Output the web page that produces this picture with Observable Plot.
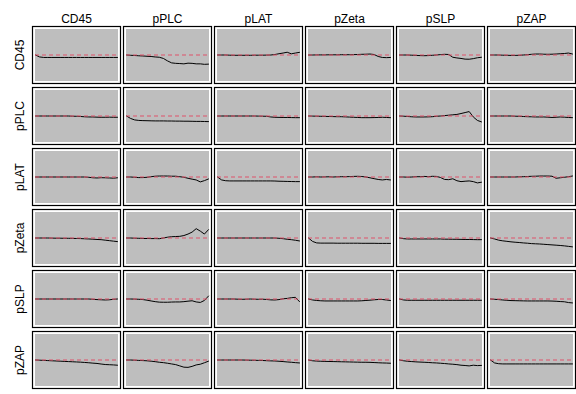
<!DOCTYPE html>
<html><head><meta charset="utf-8">
<script src="https://cdn.jsdelivr.net/npm/d3@7"></script>
<script src="https://cdn.jsdelivr.net/npm/@observablehq/plot@0.6"></script>
<style>body{margin:0;background:white}</style>
</head><body><div id="chart"></div>
<script>
const markers = ["CD45", "pPLC", "pLAT", "pZeta", "pSLP", "pZAP"];

// Each row: six series (one per column marker), deviation from the reference level (0)
const rowCD45 = [
  [0,-2,-2.5,-2.5,-2.5,-2.5,-2.5,-2.5,-2.5,-2.5,-2.5,-2.5,-2.5,-2.5,-2.5,-2.5,-2.5,-2.5,-2.5,-2.5,-2.5],
  [0,-0.3,-0.5,-0.8,-1,-1.3,-1.5,-2,-2.3,-3.5,-6,-8,-8.5,-8.7,-9,-8.3,-8.5,-9,-9,-9.5,-9.3],
  [0,0,0,-0.2,-0.3,-0.3,-0.3,-0.3,-0.3,-0.2,-0.2,-0.2,-0.1,0,0.5,1.3,2,2.8,1.2,2,2.7],
  [0,0,0.1,0.1,0.1,0.2,0.2,0.2,0.3,0.3,0.3,0.4,0.5,0.7,0.8,1,0.5,-1.5,-2.5,-2.7,-2.5],
  [0,0,0,-0.2,-0.4,-0.6,-0.7,-0.6,-0.3,0,0.4,0.7,0.5,-2.3,-3,-3.5,-4.2,-4.3,-3.7,-2.8,-2.3],
  [0,0,0,-0.2,-0.3,-0.4,-0.4,-0.3,0,0.3,0.7,1,1,0.8,0.7,0.8,1,1.3,1.5,2,1]
];
const rowPPLC = [
  [0,0,0,0,0,0,0,0,0,-0.2,-0.3,-0.5,-0.8,-1,-1,-1.2,-1.3,-1.3,-1.2,-1.3,-1.3],
  [0,-2.5,-4,-4.5,-4.7,-4.8,-4.9,-5,-5,-5,-5.1,-5.1,-5.2,-5.2,-5.3,-5.3,-5.4,-5.5,-5.5,-5.6,-5.7],
  [0,0,0,0,0,0,0,0,0,0,-0.1,-0.2,-0.3,-1,-1.3,-1.4,-1.5,-1.5,-1.6,-1.7,-1.7],
  [0,-0.1,-0.2,-0.3,-0.4,-0.5,-0.6,-0.7,-0.7,-0.9,-1.1,-1.3,-1.5,-1.7,-1.7,-1.7,-1.6,-1.5,-1.3,-1.5,-1.7],
  [0,-0.2,-0.5,-0.8,-1,-1,-1,-0.9,-0.7,-0.3,0,0.4,0.8,1.2,1.6,2.5,3.5,4.5,-1,-4.5,-6],
  [0,0,0,0,0,0,-0.2,-0.3,-0.5,-0.7,-0.8,-1,-1,-1,-1.2,-1.5,-1.3,-1,-1.2,-1.5,-1.7]
];
const rowPLAT = [
  [0,0,0,0,0,0,0,0,0,0,0,0,0,-0.3,-0.8,-1,-0.7,-0.8,-1,-1.2,-0.8],
  [0,0,-0.3,-0.6,-0.6,-0.3,0.3,0.8,1,1,1,0.8,0.8,0.3,-0.3,-1.3,-2.2,-3,-5,-3.7,-2],
  [0,-3,-3.8,-4,-4,-4,-4,-4,-4,-4,-4,-4,-4,-4,-4.1,-4.3,-4.4,-4.5,-4.6,-4.7,-4.7],
  [0,0,0.2,0,0.1,0.2,0,0.2,0.3,0.3,0.4,0.6,0.7,0.5,0,-0.8,-1.7,-2.5,-3,-2.5,-3],
  [0,0,-0.2,0,0.3,0.3,0.6,0.3,0.7,0.6,-0.5,-2.5,-2.7,-1.8,-3.8,-4.7,-4.3,-4,-4.7,-6,-5.3],
  [0,0,0,0,0,0,0,0.2,0.3,0.5,0.7,0.8,1,1,1,0.8,-1.3,-0.8,-0.3,0.3,1]
];
const rowPZeta = [
  [0,0,0,0,-0.1,-0.2,-0.2,-0.3,-0.3,-0.4,-0.5,-0.6,-0.8,-1,-1.2,-1.5,-1.7,-2.2,-2.7,-3.2,-3.7],
  [0,0,-0.2,-0.3,-0.5,-0.5,-0.6,-0.6,-0.7,0,0.8,1.3,1.5,1.7,2.5,4,6,9.5,7,4,8.5],
  [0,0,0,0,0,0,0,0,0,0,0,0,0,0,0,-0.3,-0.7,-1.3,-1.7,-2.3,-3],
  [0,-3.5,-5,-5.2,-5.2,-5.2,-5.2,-5.3,-5.3,-5.3,-5.3,-5.3,-5.3,-5.4,-5.4,-5.4,-5.4,-5.5,-5.5,-5.5,-5.5],
  [0,-0.7,-1,-1,-1,-1,-1,-1,-1,-1,-1,-1.2,-1.2,-1.3,-1.3,-1.4,-1.5,-1.5,-1.6,-1.7,-1.7],
  [0,-1,-2.2,-2.9,-3.4,-3.9,-4.3,-4.6,-5,-5.3,-5.7,-5.9,-6.1,-6.4,-6.7,-7,-7.3,-7.6,-8,-8.5,-9]
];
const rowPSLP = [
  [0,0,0,0,0,0,0,0,0,0,0,0,0,0,-0.3,-0.6,-0.8,-1,-0.8,-0.3,0],
  [0,0,-0.1,-0.3,-0.6,-1.2,-2,-2.7,-3.2,-3.3,-3.3,-3.1,-3,-3,-2.7,-2.2,-1.8,-3,-3.5,-1.5,3],
  [0,0,0,0,0,-0.2,-0.3,-0.2,0,-0.2,-0.3,-0.2,-0.5,-0.9,-1,-0.6,0.2,0.6,1.3,1.7,-2.7],
  [0,-1,-1.5,-1.8,-2,-2,-2,-2,-2,-2,-2,-2,-2,-1.8,-1.5,-1.2,-0.8,-0.5,-0.5,-1,-1.5],
  [0,-1,-1.3,-1.3,-1.3,-1.3,-1.3,-1.3,-1.3,-1.3,-1.3,-1.3,-1.3,-1.3,-1.3,-1.3,-1.3,-1.3,-1.3,-1.3,-1.3],
  [0,-0.3,-0.6,-1,-1.3,-1.6,-1.7,-1.8,-1.9,-2,-2,-2,-2,-2,-2,-2.1,-2.3,-2.6,-2.8,-3.6,-4]
];
const rowPZAP = [
  [0,-0.2,-0.4,-0.6,-0.8,-1,-1.2,-1.4,-1.6,-1.8,-2,-2.2,-2.5,-2.8,-3.2,-3.5,-4.1,-4.6,-4.8,-5,-5.3],
  [0,0,-0.2,-0.4,-0.6,-0.8,-1.2,-1.7,-2.3,-2.7,-3.3,-4,-4.7,-6,-7.3,-7.5,-6.5,-5,-4.3,-2.8,-1.2],
  [0,0,0,0,0,0,0,-0.1,-0.2,-0.3,-0.4,-0.5,-0.7,-0.9,-1,-1.3,-1.6,-2,-2.3,-2.7,-3],
  [0,-0.8,-1.1,-1.3,-1.4,-1.5,-1.6,-1.7,-1.8,-1.9,-2,-2.1,-2.2,-2.3,-2.3,-2.4,-2.6,-2.8,-3,-3.1,-3.3],
  [0,-0.8,-1.3,-1.6,-1.9,-2.1,-2.3,-2.5,-2.8,-3,-3.3,-3.6,-4,-4.3,-4.7,-5.3,-5.6,-6,-5.3,-5.7,-5.5],
  [0,-3,-3.8,-4,-4,-4,-4,-4,-4,-4,-4,-4,-4,-4,-4,-4,-4,-4,-4,-4,-4]
];
const allRows = [rowCD45, rowPPLC, rowPLAT, rowPZeta, rowPSLP, rowPZAP];

const data = [];
allRows.forEach((row, i) => row.forEach((vals, j) => vals.forEach((v, t) =>
  data.push({row: markers[i], col: markers[j], t, v}))));

const chart = Plot.plot({
  width: 576, height: 394,
  marginLeft: 32, marginRight: 1, marginTop: 23, marginBottom: 3,
  style: {fontFamily: "'Liberation Sans', Arial, Helvetica, sans-serif", fontSize: "12px", background: "white", color: "black"},
  x: {domain: [0, 20], inset: 3, axis: null},
  y: {domain: [-29, 29], axis: null},
  fx: {domain: markers, paddingInner: 0.033, paddingOuter: 0},
  fy: {domain: markers, paddingInner: 0.06, paddingOuter: 0},
  marks: [
    Plot.frame({fill: "white", stroke: "black", strokeWidth: 1.2}),
    Plot.frame({fill: "#BEBEBE", inset: 2.5}),
    Plot.line(data, {x: "t", y: "v", fx: "col", fy: "row", stroke: "black", strokeWidth: 1}),
    Plot.ruleY([0], {stroke: "#DF536B", strokeDasharray: "4,3", insetLeft: 3, insetRight: 3}),
    Plot.axisFx({anchor: "top", tickSize: 0, tickPadding: 4, label: null, fontSize: 12}),
    Plot.axisFy({anchor: "left", tickSize: 0, tickRotate: -90, tickPadding: 9, label: null, fontSize: 12})
  ]
});
document.getElementById("chart").appendChild(chart);
</script>
</body></html>
